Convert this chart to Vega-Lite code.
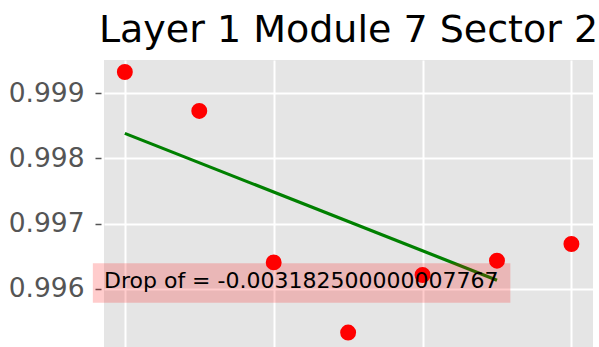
{
  "$schema": "https://vega.github.io/schema/vega-lite/v6.json",
  "width": 489,
  "height": 287,
  "autosize": {"type": "none"},
  "padding": {"left": 104, "top": 60, "right": 6, "bottom": 0},
  "background": "white",
  "title": {
    "text": "Layer 1 Module 7 Sector 2",
    "font": "DejaVu Sans",
    "fontSize": 38,
    "fontWeight": "normal",
    "color": "black",
    "anchor": "middle",
    "baseline": "alphabetic",
    "offset": -20
  },
  "config": {
    "view": {"stroke": null, "fill": "#E5E5E5"},
    "axis": {"domain": false, "gridColor": "white", "gridWidth": 2, "labelFont": "DejaVu Sans"}
  },
  "datasets": {
    "points": [
      {"step": 0, "value": 0.999326},
      {"step": 1, "value": 0.998729},
      {"step": 2, "value": 0.996407},
      {"step": 3, "value": 0.995331},
      {"step": 4, "value": 0.996214},
      {"step": 5, "value": 0.996433},
      {"step": 6, "value": 0.996689}
    ],
    "fit": [
      {"step": 0, "value": 0.998385},
      {"step": 5, "value": 0.996135}
    ],
    "box": [
      {"x1": -0.43, "x2": 5.18, "y1": 0.996394, "y2": 0.99579}
    ],
    "note": [
      {"x": -0.28, "y": 0.99601, "label": "Drop of = -0.003182500000007767"}
    ]
  },
  "layer": [
    {
      "data": {"name": "points"},
      "mark": {"type": "point", "filled": true, "shape": "circle", "size": 254, "color": "red", "opacity": 1},
      "encoding": {
        "x": {
          "field": "step", "type": "quantitative",
          "scale": {"domain": [-0.28, 6.29], "nice": false, "zero": false},
          "axis": {"values": [0, 2, 4, 6], "labels": false, "ticks": false, "title": null, "grid": true}
        },
        "y": {
          "field": "value", "type": "quantitative",
          "scale": {"domain": [0.99511, 0.99951], "nice": false, "zero": false},
          "axis": {
            "values": [0.996, 0.997, 0.998, 0.999],
            "format": ".3f",
            "title": null,
            "labelFontSize": 26.5,
            "labelColor": "#555555",
            "tickColor": "#555555",
            "tickSize": 6,
            "tickWidth": 1.5,
            "offset": 3,
            "labelPadding": 11,
            "grid": true
          }
        }
      }
    },
    {
      "data": {"name": "fit"},
      "mark": {"type": "line", "color": "green", "strokeWidth": 3.2},
      "encoding": {
        "x": {"field": "step", "type": "quantitative"},
        "y": {"field": "value", "type": "quantitative"}
      }
    },
    {
      "data": {"name": "box"},
      "mark": {"type": "rect", "color": "red", "opacity": 0.2},
      "encoding": {
        "x": {"field": "x1", "type": "quantitative"},
        "x2": {"field": "x2"},
        "y": {"field": "y1", "type": "quantitative"},
        "y2": {"field": "y2"}
      }
    },
    {
      "data": {"name": "note"},
      "mark": {"type": "text", "align": "left", "baseline": "alphabetic", "font": "DejaVu Sans", "fontSize": 22, "color": "black"},
      "encoding": {
        "x": {"field": "x", "type": "quantitative"},
        "y": {"field": "y", "type": "quantitative"},
        "text": {"field": "label"}
      }
    }
  ]
}
